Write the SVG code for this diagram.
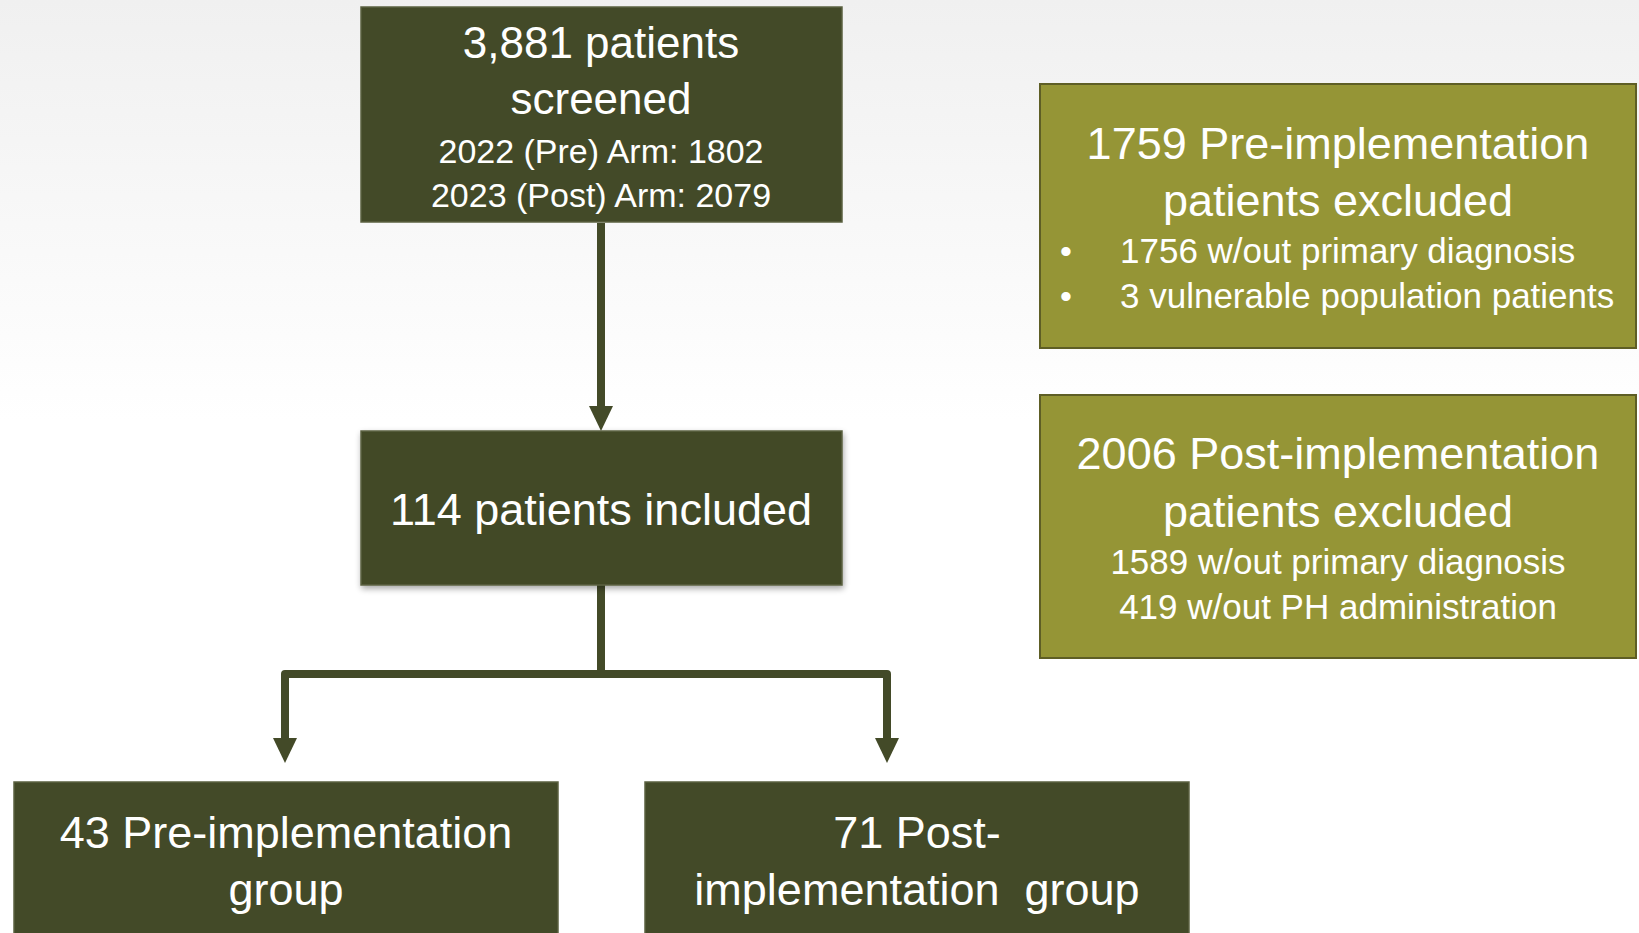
<svg xmlns="http://www.w3.org/2000/svg" width="1639" height="933" viewBox="0 0 1639 933">
<defs>
<linearGradient id="bg" x1="0" y1="0" x2="0" y2="1">
<stop offset="0" stop-color="#f0f0f0"/>
<stop offset="0.45" stop-color="#ffffff"/>
<stop offset="1" stop-color="#ffffff"/>
</linearGradient>
<filter id="shadow" x="-10%" y="-10%" width="120%" height="130%">
<feGaussianBlur in="SourceAlpha" stdDeviation="3"/>
<feOffset dx="1" dy="3" result="b"/>
<feComponentTransfer><feFuncA type="linear" slope="0.35"/></feComponentTransfer>
<feMerge><feMergeNode/><feMergeNode in="SourceGraphic"/></feMerge>
</filter>
</defs>
<style>
.dark{fill:#434a28;stroke:#5b6140;stroke-width:1.5}
.ex{fill:#959536;stroke:#5e5e25;stroke-width:2}
.t{font-family:"Liberation Sans",Arial,sans-serif;fill:#ffffff;text-anchor:middle}
.s{text-anchor:start}
.conn{fill:none;stroke:#434a28;stroke-width:8;stroke-linejoin:round}
.head{fill:#434a28}
</style>
<rect x="0" y="0" width="1639" height="933" fill="url(#bg)"/>

<g id="connectors">
<path class="conn" d="M601,223 L601,410"/>
<polygon class="head" points="589,406 613,406 601,431"/>
<path class="conn" d="M601,585 L601,674"/>
<path class="conn" d="M601,674 L285,674 L285,742"/>
<polygon class="head" points="273,738 297,738 285,763"/>
<path class="conn" d="M601,674 L887,674 L887,742"/>
<polygon class="head" points="875,738 899,738 887,763"/>
</g>

<g id="screened">
<rect class="dark" x="361" y="7" width="481" height="215"/>
<text class="t" x="601" y="58" font-size="44">3,881 patients</text>
<text class="t" x="601" y="114" font-size="44">screened</text>
<text class="t" x="601" y="163" font-size="34">2022 (Pre) Arm: 1802</text>
<text class="t" x="601" y="207" font-size="34">2023 (Post) Arm: 2079</text>
</g>

<g id="included">
<rect class="dark" x="361" y="431" width="481" height="154" filter="url(#shadow)"/>
<text class="t" x="601" y="525" font-size="45">114 patients included</text>
</g>

<g id="pre-group">
<rect class="dark" x="14" y="782" width="544" height="160"/>
<text class="t" x="286" y="848" font-size="45">43 Pre-implementation</text>
<text class="t" x="286" y="905" font-size="45">group</text>
</g>

<g id="post-group">
<rect class="dark" x="645" y="782" width="544" height="160"/>
<text class="t" x="917" y="848" font-size="45">71 Post-</text>
<text class="t" x="917" y="905" font-size="45" xml:space="preserve">implementation  group</text>
</g>

<g id="pre-excluded">
<rect class="ex" x="1040" y="84" width="596" height="264"/>
<text class="t" x="1338" y="159" font-size="45">1759 Pre-implementation</text>
<text class="t" x="1338" y="216" font-size="45">patients excluded</text>
<text class="t" x="1066" y="263" font-size="34">•</text>
<text class="t" x="1066" y="308" font-size="34">•</text>
<text class="t s" x="1120" y="263" font-size="35">1756 w/out primary diagnosis</text>
<text class="t s" x="1120" y="308" font-size="35">3 vulnerable population patients</text>
</g>

<g id="post-excluded">
<rect class="ex" x="1040" y="395" width="596" height="263"/>
<text class="t" x="1338" y="469" font-size="45">2006 Post-implementation</text>
<text class="t" x="1338" y="527" font-size="45">patients excluded</text>
<text class="t" x="1338" y="574" font-size="35">1589 w/out primary diagnosis</text>
<text class="t" x="1338" y="619" font-size="35">419 w/out PH administration</text>
</g>
</svg>
